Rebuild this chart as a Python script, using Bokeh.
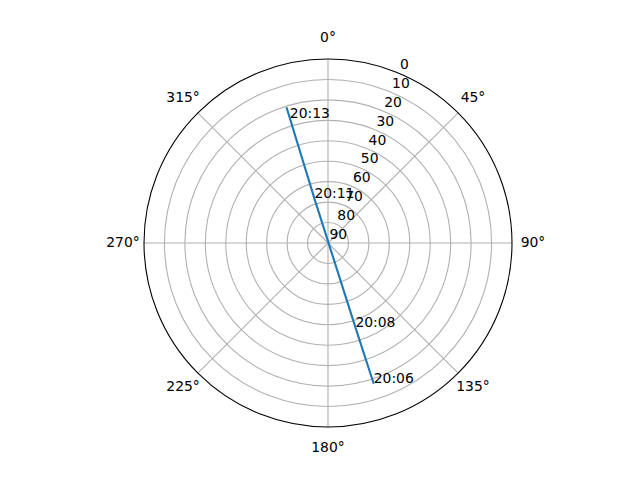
import numpy as np
from bokeh.plotting import figure
from bokeh.models import Range1d
from bokeh.core.properties import value
from bokeh.embed import file_html
from bokeh.resources import INLINE

# ---- data ----
theta_ticks = [0, 45, 90, 135, 180, 225, 270, 315]
theta_labels = ["0°", "45°", "90°", "135°", "180°", "225°", "270°", "315°"]
r_ticks = [0, 10, 20, 30, 40, 50, 60, 70, 80, 90]
r_labels = ["0", "10", "20", "30", "40", "50", "60", "70", "80", "90"]

track_az = [162.0, 162.0, 343.0, 343.0, 343.0]
track_el = [17.6, 46.6, 67.3, 26.2, 20.6]

label_times = ["20:06", "20:08", "20:11", "20:13"]
label_az = [162.0, 162.0, 343.0, 343.0]
label_el = [17.6, 46.6, 67.3, 26.2]

# ---- layout ----
W, H = 624, 464
cx, cy = 327.5, 242.5          # centre of polar plot in canvas pixels
R_PX = 184.0                   # outer radius in pixels
RMAX = 90.0
s = R_PX / RMAX                # pixels per unit

FONT = value("DejaVu Sans")
FS = value("13.9px")


def to_xy(az, el):
    az = np.radians(np.asarray(az, dtype=float))
    r = RMAX - np.asarray(el, dtype=float)
    return r * np.sin(az), r * np.cos(az)


p = figure(width=W, height=H, output_backend="svg", toolbar_location=None,
           x_range=Range1d(-cx / s, (W - cx) / s),
           y_range=Range1d(-(H - cy) / s, cy / s),
           min_border=0)
p.axis.visible = False
p.grid.visible = False
p.outline_line_color = None
p.background_fill_color = "white"
p.border_fill_color = "white"

# circular grid
ring_r = [RMAX - v for v in r_ticks if 0 < v < 90]
p.circle(x=[0] * len(ring_r), y=[0] * len(ring_r), radius=ring_r,
         fill_color=None, line_color="#b0b0b0", line_width=1.1)

# spokes
th = np.radians(theta_ticks)
p.segment(x0=np.zeros(len(th)), y0=np.zeros(len(th)),
          x1=RMAX * np.sin(th), y1=RMAX * np.cos(th),
          line_color="#b0b0b0", line_width=1.1)

# outer spine
p.circle(x=[0], y=[0], radius=[RMAX], fill_color=None,
         line_color="black", line_width=1.1)

# track
tx, ty = to_xy(track_az, track_el)
p.line(tx, ty, line_color="#1f77b4", line_width=2.1)

# r labels at 22.5 deg
ra = np.radians(22.5)
rr = np.array([RMAX - v for v in r_ticks])
p.text(x=rr * np.sin(ra), y=rr * np.cos(ra), text=r_labels,
       text_align="left", text_baseline="alphabetic",
       x_offset=1.5, y_offset=-9,
       text_font=FONT, text_font_size=FS, text_color="black")

# theta labels
TR = (R_PX + 21) / s
p.text(x=TR * np.sin(th), y=TR * np.cos(th), text=theta_labels,
       text_align="center", text_baseline="middle", y_offset=-1.5,
       text_font=FONT, text_font_size=FS, text_color="black")

# time labels
lx, ly = to_xy(label_az, label_el)
p.text(x=lx, y=ly, text=label_times, text_align="left",
       text_baseline="alphabetic", y_offset=-5.5,
       text_font=FONT, text_font_size=FS, text_color="black")

open("out.html", "w").write(file_html(p, INLINE))
